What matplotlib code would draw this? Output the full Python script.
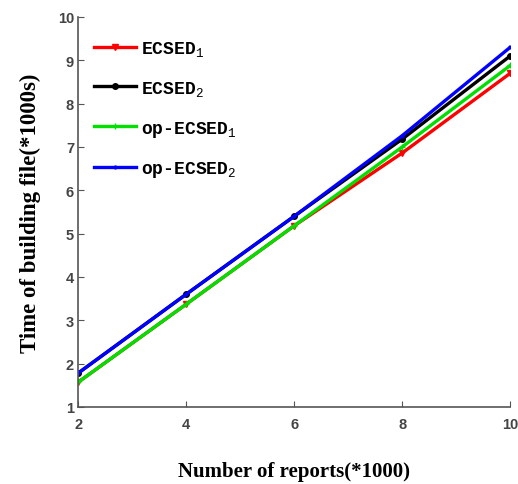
import matplotlib.pyplot as plt

reports = [2, 4, 6, 8, 10]
ecsed1 = [1.57, 3.37, 5.18, 6.86, 8.70]
ecsed2 = [1.78, 3.60, 5.40, 7.18, 9.10]
op_ecsed1 = [1.57, 3.37, 5.18, 7.00, 8.88]
op_ecsed2 = [1.78, 3.60, 5.40, 7.26, 9.30]

labels = ['ECSED$_1$', 'ECSED$_2$', 'op-ECSED$_1$', 'op-ECSED$_2$']

plt.rcParams['mathtext.fontset'] = 'custom'
plt.rcParams['mathtext.rm'] = 'Liberation Mono'
plt.rcParams['mathtext.it'] = 'Liberation Mono'

fig = plt.figure(figsize=(5.18, 4.85), dpi=100)
ax = fig.add_axes([0.151, 0.159, 0.834, 0.804])

ax.plot(reports, ecsed1, color='#ff0000', marker='v', markersize=4, lw=2.4, label=labels[0])
ax.plot(reports, ecsed2, color='black', marker='o', markersize=4, lw=2.4, label=labels[1])
ax.plot(reports, op_ecsed1, color='#00e000', marker='+', markersize=4, lw=2.4, label=labels[2])
ax.plot(reports, op_ecsed2, color='#0000ff', marker='.', markersize=4, lw=2.4, label=labels[3])

ax.set_xlim(2, 10)
ax.set_ylim(1, 10)
ax.set_xticks([2, 4, 6, 8, 10])
ax.set_yticks(range(1, 11))
for s in ['top', 'right']:
    ax.spines[s].set_visible(False)
for s in ['left', 'bottom']:
    ax.spines[s].set_color('#555555')
    ax.spines[s].set_linewidth(1.2)
ax.tick_params(direction='in', length=4, colors='#555555', labelsize=10.5, pad=3)
ax.tick_params(axis='x', pad=7)
for t in ax.get_xticklabels() + ax.get_yticklabels():
    t.set_fontfamily('Liberation Sans')
    t.set_fontweight('bold')
    t.set_color('#444444')

ax.set_xlabel('Number of reports(*1000)', family='Liberation Serif', fontweight='bold',
              fontsize=15, labelpad=22)
ax.set_ylabel('Time of building file(*1000s)', family='Liberation Serif', fontweight='bold',
              fontsize=16.5, labelpad=12)

leg = ax.legend(loc='upper left', bbox_to_anchor=(0.0, 0.985), frameon=False,
                prop={'family': 'Liberation Mono', 'weight': 'bold', 'size': 13},
                handlelength=2.3, labelspacing=1.15, handletextpad=0.3)

plt.savefig('out.png', dpi=100)
